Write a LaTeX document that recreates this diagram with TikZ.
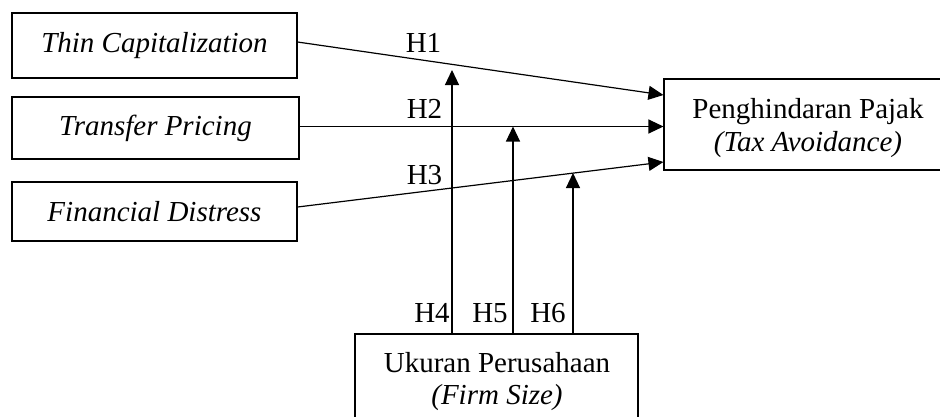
\documentclass[tikz,border=0pt]{standalone}
\usepackage{fontspec}
\setmainfont{Liberation Serif}
\usetikzlibrary{arrows.meta,calc}
\begin{document}
\begin{tikzpicture}[x=1pt,y=-1pt,
  box/.style={draw, line width=1.1pt, inner sep=0pt, align=center, font=\fontsize{29}{33}\selectfont},
  lbl/.style={anchor=base, inner sep=0pt, font=\fontsize{29}{33}\selectfont},
  arr/.style={line width=1.2pt, -{Triangle[length=15pt,width=14pt]}}]
\clip (0,0) rectangle (940,416);
% boxes
\node[box, minimum width=285pt, minimum height=65pt] (tc) at (154.5,45.5) {\itshape Thin Capitalization};
\node[box, minimum width=287pt, minimum height=62pt] (tp) at (155.5,128) {\itshape Transfer Pricing};
\node[box, minimum width=285pt, minimum height=59pt] (fd) at (154.5,211.5) {\itshape Financial Distress};
\node[box, minimum width=288pt, minimum height=91pt] (ph) at (808,124.5) {};
\node[lbl] (pht) at (808,118) {Penghindaran Pajak};
\node[lbl] (phs) at (808,151) {\itshape (Tax Avoidance)};
\node[box, minimum width=283pt, minimum height=88pt] (uk) at (496.5,378) {};
\node[lbl] (ukt) at (497,372) {Ukuran Perusahaan};
\node[lbl] (uks) at (497,404) {\itshape (Firm Size)};
% direct effects
\draw[arr] ([yshift=3.5pt]tc.east) -- ([yshift=29.5pt]ph.west);
\draw[arr] ([yshift=1.5pt]tp.east) -- ([yshift=-2pt]ph.west);
\draw[arr] ([yshift=4.5pt]fd.east) -- ([yshift=-37.5pt]ph.west);
% moderation
\coordinate (t4) at (452,70);
\coordinate (t5) at (513,126.5);
\coordinate (t6) at (573,173);
\draw[arr] (t4 |- uk.north) -- (t4);
\draw[arr] (t5 |- uk.north) -- (t5);
\draw[arr] (t6 |- uk.north) -- (t6);
% labels
\node[lbl] (h1) at (423.5,52) {H1};
\node[lbl] (h2) at (424.5,118) {H2};
\node[lbl] (h3) at (424.5,184) {H3};
\node[lbl] (h4) at (432,322) {H4};
\node[lbl] (h5) at (490,322) {H5};
\node[lbl] (h6) at (548,322) {H6};
\end{tikzpicture}
\end{document}
